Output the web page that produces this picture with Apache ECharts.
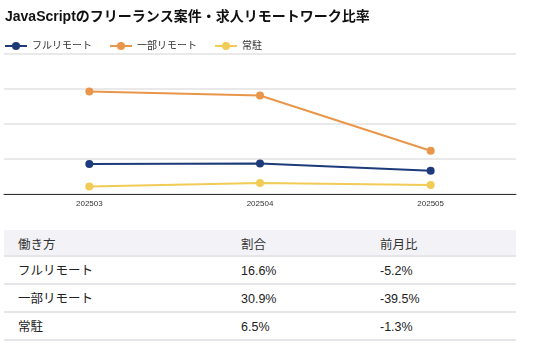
<!DOCTYPE html>
<html>
<head>
<meta charset="utf-8">
<script src="https://cdn.jsdelivr.net/npm/echarts@6/dist/echarts.min.js"></script>
<style>
  html, body { margin: 0; padding: 0; background: #fff; width: 536px; height: 347px; overflow: hidden; }
  #chart { position: absolute; left: 0; top: 0; width: 536px; height: 215px; }
  #tbl { position: absolute; left: 4px; top: 230px; width: 512px;
         font-family: "Liberation Sans", "Noto Sans CJK JP", sans-serif; font-size: 12.5px; color: #222; }
  .row { position: relative; height: 26px; border-bottom: 2px solid #e6e6ea; box-sizing: content-box; }
  .row.head { height: 25px; background: #f3f3f7; color: #333; }
  .cell { position: absolute; top: 0; line-height: 28px; white-space: nowrap; }
  .row.head .cell { line-height: 31px; }
</style>
</head>
<body>
<div id="chart"></div>
<div id="tbl"></div>
<script>
const title = 'JavaScriptのフリーランス案件・求人リモートワーク比率';
const months = ['202503', '202504', '202505'];
const seriesNames = ['フルリモート', '一部リモート', '常駐'];
const fullRemote = [21.5, 21.8, 16.6];
const partRemote = [73.2, 70.4, 30.9];
const onsite = [5.3, 7.8, 6.5];
const colors = ['#1d3a7a', '#e8964a', '#f0cb55'];

const tableHeaders = ['働き方', '割合', '前月比'];
const tableShare = ['16.6%', '30.9%', '6.5%'];
const tableChange = ['-5.2%', '-39.5%', '-1.3%'];

const font = '"Liberation Sans", "Noto Sans CJK JP", sans-serif';
const values = [fullRemote, partRemote, onsite];

const chart = echarts.init(document.getElementById('chart'));
chart.setOption({
  animation: false,
  color: colors,
  textStyle: { fontFamily: font },
  title: {
    text: title, left: 0, top: 5,
    textStyle: { fontSize: 14, fontWeight: 'bold', color: '#111', fontFamily: font }
  },
  legend: {
    left: 4, top: 41, padding: 0, itemWidth: 22, itemHeight: 10, itemGap: 17,
    textStyle: { fontSize: 10, color: '#333' },
    data: seriesNames
  },
  grid: { left: 4, right: 20, top: 54, bottom: 21, containLabel: false },
  xAxis: {
    type: 'category', data: months, boundaryGap: true,
    axisLine: { lineStyle: { color: '#333', width: 1 } },
    axisTick: { show: false },
    axisLabel: { fontSize: 8, color: '#333', margin: 6 }
  },
  yAxis: {
    type: 'value', min: 0, max: 100, interval: 25,
    axisLabel: { show: false }, axisLine: { show: false }, axisTick: { show: false },
    splitLine: { lineStyle: { color: '#e2e2e2', width: 1.5 } }
  },
  series: seriesNames.map((n, i) => ({
    name: n, type: 'line', data: values[i],
    symbol: 'circle', symbolSize: 8,
    lineStyle: { width: 2 },
    itemStyle: { color: colors[i] }
  }))
});

const colX = [14, 237, 376];
const tbl = document.getElementById('tbl');
const mkRow = (cells, cls) => '<div class="row ' + cls + '">' +
  cells.map((c, j) => '<div class="cell" style="left:' + colX[j] + 'px">' + c + '</div>').join('') + '</div>';
let html = mkRow(tableHeaders, 'head');
seriesNames.forEach((n, i) => { html += mkRow([n, tableShare[i], tableChange[i]], ''); });
tbl.innerHTML = html;
</script>
</body>
</html>
